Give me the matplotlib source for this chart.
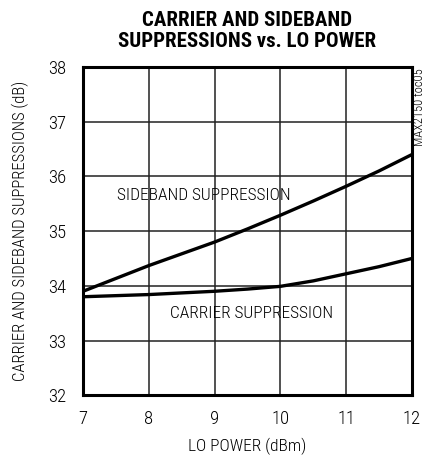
import numpy as np
import matplotlib.pyplot as plt

plt.rcParams['font.family'] = ['Roboto Condensed', 'DejaVu Sans']
plt.rcParams['font.weight'] = 'light'
plt.rcParams['axes.labelweight'] = 'light'

lo_power = [7, 8, 9, 9.5, 10, 10.5, 11, 11.5, 12]
sideband = [33.9, 34.37, 34.8, 35.04, 35.29, 35.55, 35.82, 36.1, 36.4]
carrier = [33.8, 33.84, 33.9, 33.94, 33.99, 34.09, 34.22, 34.35, 34.5]

fig = plt.figure(figsize=(4.26, 4.59), dpi=100)
ax = fig.add_axes([0.195, 0.139, 0.772, 0.715])

ax.plot(lo_power, sideband, color='black', lw=2.4)
ax.plot(lo_power, carrier, color='black', lw=2.4)

ax.set_xlim(7, 12)
ax.set_ylim(32, 38)
ax.set_xticks(np.arange(7, 13, 1))
ax.set_yticks(np.arange(32, 39, 1))
ax.grid(True, color='#222222', lw=1.1)
ax.tick_params(length=0, labelsize=13.5)
ax.tick_params(axis='x', pad=11)
ax.tick_params(axis='y', pad=12)
for s in ax.spines.values():
    s.set_linewidth(2.2)

ax.text(7.52, 35.66, 'SIDEBAND SUPPRESSION', fontsize=12.5, va='center', ha='left')
ax.text(8.32, 33.5, 'CARRIER SUPPRESSION', fontsize=12.5, va='center', ha='left')

ax.set_xlabel('LO POWER (dBm)', fontsize=12.5, labelpad=7)
ax.set_ylabel('CARRIER AND SIDEBAND SUPPRESSIONS (dB)', fontsize=12, labelpad=14)

fig.text(0.581, 0.933, 'CARRIER AND SIDEBAND\nSUPPRESSIONS vs. LO POWER',
         ha='center', va='center', fontsize=15, fontweight='bold',
         linespacing=1.1)
fig.text(0.999, 0.852, 'MAX2150 toc05', rotation=90, ha='right', va='top',
         fontsize=9)

fig.savefig('out.png', dpi=100)
